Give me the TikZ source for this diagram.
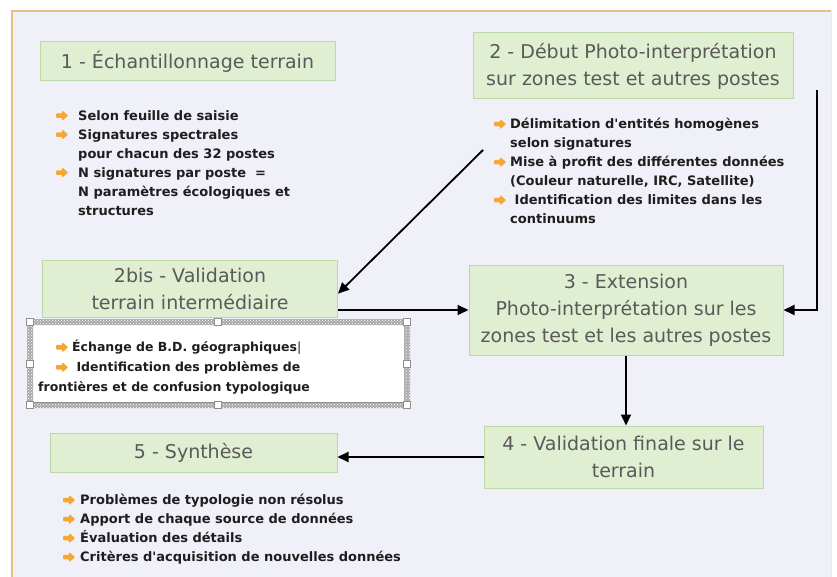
\documentclass[tikz,border=0pt]{standalone}
\usepackage{fontspec}
\setmainfont{DejaVu Sans}[Ligatures=TeXOff]
\usetikzlibrary{arrows.meta,patterns}
\definecolor{bgc}{HTML}{F0F0F8}
\definecolor{framec}{HTML}{E2C27E}
\definecolor{boxfill}{HTML}{E0EED2}
\definecolor{boxline}{HTML}{BCD8A6}
\definecolor{titlec}{HTML}{5A5A5A}
\definecolor{bul}{HTML}{F4A732}
\definecolor{txtc}{HTML}{1E1E1E}
\definecolor{hatchc}{HTML}{8E8E8E}
\newcommand\arrglyph{\tikz[baseline=-4.5pt]\fill[bul, rounded corners=0.8pt] (0pt,-2.3pt)--(6pt,-2.3pt)--(6pt,-5pt)--(12pt,0pt)--(6pt,5pt)--(6pt,2.3pt)--(0pt,2.3pt)--cycle;}
\newcommand\blt[1]{\makebox[#1][l]{\arrglyph}}
\begin{document}
\begin{tikzpicture}[x=1pt,y=-1pt,
  stage/.style={draw=boxline, fill=boxfill, line width=1pt, text=titlec,
    font=\fontsize{19}{27}\selectfont, align=center, inner sep=0pt},
  blist/.style={anchor=north west, inner sep=0pt, align=left, text=txtc,
    font=\fontsize{13}{19}\selectfont\bfseries},
  arr/.style={draw=black, line width=1.8pt, -{Triangle[length=11pt,width=10pt]}},
  handle/.style={draw=hatchc, fill=white, line width=0.8pt, minimum size=7pt, inner sep=0pt}]
\useasboundingbox (0,0) rectangle (837,577);
\fill[white] (0,0) rectangle (837,577);
\fill[bgc] (12,11) rectangle (831,577);
\draw[framec, line width=2.2pt] (12,577) -- (12,11) -- (831,11);
\draw[framec!35, line width=1pt] (831,11) -- (831,577);

% stage boxes
\node[stage, minimum width=295, minimum height=39] (b1) at (187.5,61.5) {1 - Échantillonnage terrain};
\node[stage, minimum width=320, minimum height=66] (b2) at (633,66) {2 - Début Photo-interprétation\\sur zones test et autres postes};
\node[stage, minimum width=295, minimum height=57] (b2b) at (190,288.5) {2bis - Validation\\terrain intermédiaire};
\node[stage, minimum width=314, minimum height=90] (b3) at (626,310) {3 - Extension\\Photo-interprétation sur les\\zones test et les autres postes};
\node[stage, minimum width=279, minimum height=62] (b4) at (623.5,457) {4 - Validation finale sur le\\terrain};
\node[stage, minimum width=287, minimum height=39] (b5) at (193.5,452.5) {5 - Synthèse};

% bullet lists
\node[blist] (l1) at (56,110) {\blt{22pt}Selon feuille de saisie\\
\blt{22pt}Signatures spectrales\\
\hspace*{22pt}pour chacun des 32 postes\\
\blt{22pt}N signatures par poste \ =\\
\hspace*{22pt}N paramètres écologiques et\\
\hspace*{22pt}structures};

\node[blist] (l2) at (494,118) {\blt{16pt}Délimitation d'entités homogènes\\
\hspace*{16pt}selon signatures\\
\blt{16pt}Mise à profit des différentes données\\
\hspace*{16pt}(Couleur naturelle, IRC, Satellite)\\
\blt{16pt}\ Identification des limites dans les\\
\hspace*{16pt}continuums};

% selection frame around 2bis list
\fill[white] (30,322) rectangle (407,405);
\fill[hatchc!75, even odd rule] (27,319) rectangle (410,408) (33,325) rectangle (404,402);
\fill[pattern=crosshatch dots, pattern color=white, even odd rule] (27,319) rectangle (410,408) (33,325) rectangle (404,402);
\draw[hatchc, line width=1pt] (33,402) -- (404,402);
\foreach \hx/\hy/\hn in {30/322/ha,218/322/hb,407/322/hc,30/363.5/hd,407/363.5/he,30/405/hf,218/405/hg,407/405/hh}
  \node[handle] (\hn) at (\hx,\hy) {};
\node[blist, font=\fontsize{12.5}{20}\selectfont\bfseries] (l3) at (38,340) {\hspace*{18pt}\blt{16pt}Échange de B.D. géographiques{\mdseries|}\\
\hspace*{18pt}\blt{16pt}\ Identification des problèmes de\\
frontières et de confusion typologique};

\node[blist] (l5) at (63,494) {\blt{17pt}Problèmes de typologie non résolus\\
\blt{17pt}Apport de chaque source de données\\
\blt{17pt}Évaluation des détails\\
\blt{17pt}Critères d'acquisition de nouvelles données};

% connectors
\coordinate (d0) at (483,150);
\coordinate (r0) at (817,90);
\draw[arr] (d0) -- (b2b.-2.5);
\draw[arr] (b2b.east |- b3.west) -- (b3.west);
\draw[arr] (r0) |- (b3.east);
\draw[arr] (b3.south) -- (b3.south |- b4.north);
\draw[arr] (b4.west) -- (b5.east |- b4.west);
\end{tikzpicture}
\end{document}
